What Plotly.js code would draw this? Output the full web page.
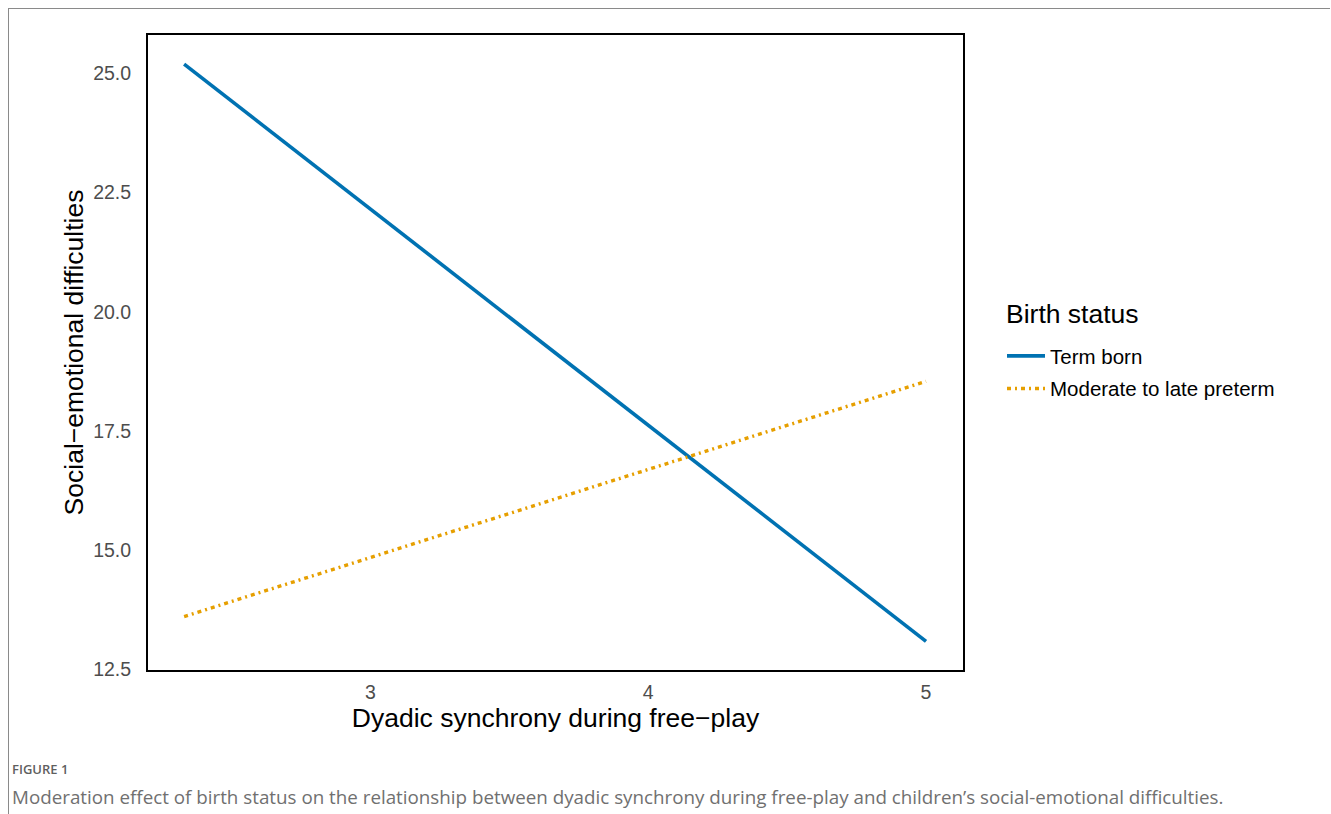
<!DOCTYPE html>
<html>
<head>
<meta charset="utf-8">
<script src="https://cdn.plot.ly/plotly-3.0.1.min.js"></script>
<style>
html,body{margin:0;padding:0;background:#fff;}
#wrap{position:relative;width:1331px;height:814px;}
#chart{position:absolute;left:0;top:0;width:1331px;height:814px;}
#bt{position:absolute;left:8px;top:8px;width:1322px;height:0;border-top:1.5px solid #8a8a8a;}
#bl{position:absolute;left:8px;top:8px;width:0;height:806px;border-left:1.5px solid #8a8a8a;}
</style>
</head>
<body>
<div id="wrap">
<div id="chart"></div>
<div id="bt"></div>
<div id="bl"></div>
</div>
<script>
// Data
const synchrony = [2.33, 5.0];
const termBorn = [25.19, 13.09];
const preterm = [13.61, 18.54];
const seriesNames = ["Term born", "Moderate to late preterm"];
const legendTitle = "Birth status";
const xTicks = [3, 4, 5];
const xTickLabels = ["3", "4", "5"];
const yTicks = [12.5, 15.0, 17.5, 20.0, 22.5, 25.0];
const yTickLabels = ["12.5", "15.0", "17.5", "20.0", "22.5", "25.0"];

const L = 148, R = 963, T = 35, B = 670;
const W = R - L, H = B - T;
const px = x => (x - L) / W;
const py = y => (B - y) / H;

const traces = [
  {x: synchrony, y: termBorn, name: seriesNames[0], legendgroup: 'a', type: 'scatter', mode: 'lines',
   line: {color: '#0072B2', width: 3.6}},
  {x: synchrony, y: preterm, name: seriesNames[1], legendgroup: 'b', type: 'scatter', mode: 'lines',
   line: {color: '#E69F00', width: 3.4, dash: '4px,4px,2px,4px'}}
];

const layout = {
  width: 1331, height: 814,
  margin: {l: L, r: 1331 - R, t: T, b: 814 - B, pad: 0},
  paper_bgcolor: '#fff', plot_bgcolor: '#fff',
  font: {family: 'Liberation Sans, Arial, sans-serif', color: '#000'},
  xaxis: {
    range: [2.2, 5.133], tickvals: xTicks, ticktext: xTickLabels,
    showgrid: false, zeroline: false, showline: true, mirror: true,
    linecolor: '#000', linewidth: 2, ticks: '', ticklabelstandoff: 4,
    tickfont: {size: 19.5, color: '#4d4d4d'},
    title: {text: 'Dyadic synchrony during free\u2212play', font: {size: 26.5, color: '#000'}, standoff: 5}
  },
  yaxis: {
    range: [12.49, 25.8], tickvals: yTicks, ticktext: yTickLabels,
    showgrid: false, zeroline: false, showline: true, mirror: true,
    linecolor: '#000', linewidth: 2, ticks: '', ticklabelstandoff: 11,
    tickfont: {size: 19.5, color: '#4d4d4d'},
    title: {text: 'Social\u2212emotional difficulties', font: {size: 26.5, color: '#000'}, standoff: 2}
  },
  showlegend: true,
  legend: {
    x: px(1002), y: py(336), xanchor: 'left', yanchor: 'top',
    bgcolor: 'rgba(0,0,0,0)',
    font: {size: 20.5, color: '#000'},
    tracegroupgap: 3, itemwidth: 38
  },
  annotations: [
    {text: legendTitle, xref: 'paper', yref: 'paper', x: px(1004), y: py(314),
     xanchor: 'left', yanchor: 'middle', showarrow: false,
     font: {size: 26.5, color: '#000'}},
    {text: 'FIGURE 1', xref: 'paper', yref: 'paper', x: px(10), y: py(769),
     xanchor: 'left', yanchor: 'middle', showarrow: false,
     font: {family: 'Open Sans, Noto Sans, sans-serif', size: 13, color: '#5f5f5f', weight: 600}},
    {text: 'Moderation effect of birth status on the relationship between dyadic synchrony during free-play and children\u2019s social-emotional difficulties.',
     xref: 'paper', yref: 'paper', x: px(10), y: py(797),
     xanchor: 'left', yanchor: 'middle', showarrow: false,
     font: {family: 'Open Sans, Noto Sans, sans-serif', size: 18.8, color: '#707070'}}
  ]
};

Plotly.newPlot('chart', traces, layout, {displayModeBar: false, staticPlot: true});
</script>
</body>
</html>
